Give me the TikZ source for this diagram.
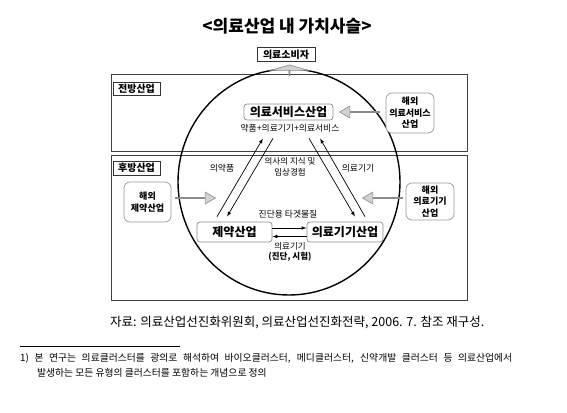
\documentclass[tikz,border=0pt]{standalone}
\usepackage{fontspec}
\setmainfont{Noto Sans CJK KR}
\usetikzlibrary{arrows.meta,calc,shapes.arrows}
\begin{document}
\begin{tikzpicture}[x=1pt,y=-1pt,
  frame/.style={draw=black!75,line width=0.9pt},
  tag/.style={draw=black!80,line width=0.8pt,fill=white,inner sep=1.2pt,font=\bfseries\fontsize{10}{12}\selectfont},
  ind/.style={draw=black!45,line width=0.7pt,rounded corners=3pt,fill=white,inner sep=1pt,font=\bfseries\fontsize{12}{14}\selectfont},
  ovs/.style={draw=black!40,line width=0.7pt,rounded corners=6pt,fill=white,align=center,inner sep=0.5pt,font=\bfseries\fontsize{9}{11.5}\selectfont},
  small/.style={align=center,inner sep=0.5pt,font=\fontsize{8.8}{11}\selectfont},
  blk/.style={single arrow,draw=black!45,fill=black!18,line width=0.6pt,inner sep=0pt,single arrow tip angle=60,minimum width=12pt,single arrow head extend=3pt},
  conn/.style={line width=0.7pt,-{Latex[length=5pt,width=3.6pt]}}
]
\useasboundingbox (0,0) rectangle (567,412);
% title
\node[font=\bfseries\fontsize{17}{20}\selectfont] (title) at (287,26) {<의료산업 내 가치사슬>};
% frames
\draw[frame] (111.5,74.5) rectangle (467,151);
\draw[frame] (111.5,155) rectangle (467,300);
% circle
\draw[line width=1.4pt] (289,182) ellipse [x radius=111pt, y radius=113pt];
% consumer
\node[tag,minimum width=58pt,minimum height=14.5pt] (cons) at (286,54.5) {의료소비자};
\node[single arrow,draw=black!45,fill=black!18,line width=0.6pt,inner sep=0pt,
      shape border rotate=90,minimum height=11pt,minimum width=38pt,
      single arrow head extend=11.5pt,single arrow tip angle=148] (up) at (289.5,70.5) {};
% tags
\node[tag,minimum width=47pt,minimum height=13pt] (front) at (136.5,89) {전방산업};
\node[tag,minimum width=47pt,minimum height=14pt] (back) at (136.5,168) {후방산업};
% industries
\node[ind,minimum width=89pt,minimum height=16pt] (svc) at (288.5,112) {의료서비스산업};
\node[ind,minimum width=75pt,minimum height=20pt] (pharma) at (234.5,232) {제약산업};
\node[ind,minimum width=76pt,minimum height=20pt] (dev) at (345,232) {의료기기산업};
% overseas
\node[ovs,minimum width=48pt,minimum height=40pt] (osvc) at (410,113) {해외\\의료서비스\\산업};
\node[ovs,minimum width=47pt,minimum height=40pt] (opharma) at (147.5,202) {해외\\제약산업};
\node[ovs,minimum width=48pt,minimum height=37pt] (odev) at (430,201.5) {해외\\의료기기\\산업};
% block arrows
\node[blk,shape border rotate=180,minimum height=40pt] (a1) at (360,112) {};
\node[blk,minimum height=40pt] (a2) at (195,198) {};
\node[blk,shape border rotate=180,minimum height=40pt] (a3) at (383,198) {};
% labels
\node[small] (svclbl) at (290,128) {약품+의료기기+의료서비스};
\node[small] (l1) at (222,168) {의약품};
\node[small,font=\fontsize{8.5}{11}\selectfont] (l2) at (290,167) {의사의 지식 및\\임상경험};
\node[small] (l3) at (358,168) {의료기기};
\node[small] (l4) at (288,214) {진단용 타겟물질};
\node[small,font=\fontsize{8.5}{10}\selectfont] (l5) at (290,252) {의료기기\\{\bfseries (진단, 시험)}};
% diagonal connectors
\draw[conn] ([xshift=-17.5pt,yshift=5pt]pharma.north) -- ([xshift=-25.5pt,yshift=-18pt]svc.south);
\draw[conn] ([xshift=-15.5pt,yshift=-18pt]svc.south) -- ([xshift=-7.5pt,yshift=5pt]pharma.north);
\draw[conn] ([xshift=20.5pt,yshift=-18pt]svc.south) -- ([xshift=10pt,yshift=5pt]dev.north);
\draw[conn] ([xshift=20pt,yshift=5pt]dev.north) -- ([xshift=31.5pt,yshift=-18pt]svc.south);
% horizontal connectors
\draw[conn] ([yshift=4pt]pharma.east) -- ([yshift=4pt]dev.west);
\draw[conn] ([yshift=-4.5pt]dev.west) -- ([yshift=-4.5pt]pharma.east);
% source
\node[anchor=west,inner sep=0pt,font=\fontsize{12.5}{15}\selectfont] (src) at (110,322) {자료: 의료산업선진화위원회, 의료산업선진화전략, 2006. 7. 참조 재구성.};
% footnote
\coordinate (fr1) at (20,346);
\coordinate (fr2) at (180,346);
\draw[line width=0.6pt] (fr1) -- (fr2);
\node[anchor=west,inner sep=0pt,font=\fontsize{9.8}{11}\selectfont] (fn1) at (20,358) {\makebox[492pt][s]{1) 본 연구는 의료클러스터를 광의로 해석하여 바이오클러스터, 메디클러스터, 신약개발 클러스터 등 의료산업에서}};
\node[anchor=west,inner sep=0pt,font=\fontsize{9.8}{11}\selectfont] (fn2) at (37,373) {발생하는 모든 유형의 클러스터를 포함하는 개념으로 정의};
\end{tikzpicture}
\end{document}
